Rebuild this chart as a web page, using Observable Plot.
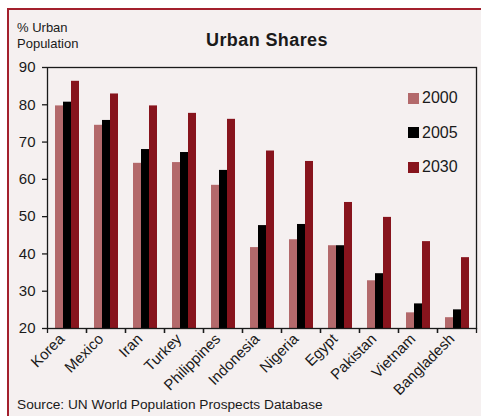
<!DOCTYPE html>
<html>
<head>
<meta charset="utf-8">
<script src="https://cdn.jsdelivr.net/npm/d3@7"></script>
<script src="https://cdn.jsdelivr.net/npm/@observablehq/plot@0.6"></script>
<style>
  html, body { margin: 0; padding: 0; background: #ffffff; }
  #wrap { position: relative; width: 481px; height: 416px; overflow: hidden; font-family: "Liberation Sans", Arial, sans-serif; color: #1a1a1a; }
  #panel { position: absolute; left: 7px; top: 8px; width: 480px; height: 420px; background: #f5f0f0; border-left: 2px solid #a3202d; border-top: 2px solid #a3202d; }
  #chart { position: absolute; left: 0; top: 0; }
  .title { position: absolute; left: 0; width: 534px; text-align: center; top: 30px; font-size: 18px; font-weight: bold; letter-spacing: 0.4px; }
  .ylab { position: absolute; left: 17px; top: 20px; font-size: 13px; line-height: 16px; }
  .source { position: absolute; left: 17px; top: 397px; font-size: 13.7px; }
  .legend { position: absolute; left: 408px; top: 88px; font-size: 16px; }
  .legend .item { display: flex; align-items: center; height: 20px; margin-bottom: 14.5px; }
  .legend .sw { width: 11px; height: 11px; margin-right: 3px; }
</style>
</head>
<body>
<div id="wrap">
  <div id="panel"></div>
  <div id="chart"></div>
  <div class="title">Urban Shares</div>
  <div class="ylab">% Urban<br>Population</div>
  <div class="legend" id="legend"></div>
  <div class="source">Source: UN World Population Prospects Database</div>
</div>
<script>
const countries = ["Korea","Mexico","Iran","Turkey","Philippines","Indonesia","Nigeria","Egypt","Pakistan","Vietnam","Bangladesh"];
const years = ["2000","2005","2030"];
const v2000 = [79.7, 74.5, 64.3, 64.5, 58.4, 41.7, 43.8, 42.2, 32.8, 24.2, 22.9];
const v2005 = [80.7, 75.8, 68.0, 67.2, 62.4, 47.6, 47.9, 42.2, 34.7, 26.6, 25.0];
const v2030 = [86.3, 82.9, 79.7, 77.7, 76.1, 67.6, 64.8, 53.8, 49.8, 43.3, 39.0];
const yTicks = [20, 30, 40, 50, 60, 70, 80, 90];
const colors = ["#b3696b", "#000000", "#87141d"];

const series = [v2000, v2005, v2030];
const data = [];
countries.forEach((c, i) => {
  years.forEach((y, j) => data.push({country: c, year: y, value: series[j][i]}));
});

const W = 481, H = 395;
const mL = 47, mR = 5, mT = 67, mB = 67;
const half = (W - mL - mR) / countries.length / 2;
const yMin = yTicks[0], yMax = yTicks[yTicks.length - 1];

const chart = Plot.plot({
  width: W, height: H,
  marginTop: mT, marginLeft: mL, marginRight: mR, marginBottom: mB,
  style: {background: "transparent", fontFamily: "'Liberation Sans', Arial, sans-serif", color: "#1a1a1a", overflow: "visible"},
  fx: {domain: countries, padding: 0, label: null},
  x: {domain: years, paddingInner: 0, paddingOuter: 0.667, axis: null},
  y: {domain: [yMin, yMax], label: null},
  color: {domain: years, range: colors},
  marks: [
    Plot.barY(data, {fx: "country", x: "year", y1: yMin, y2: "value", fill: "year"}),
    Plot.frame({facet: "super", stroke: "#1a1a1a", strokeWidth: 1.3}),
    Plot.axisY({ticks: yTicks, tickSize: 5, tickPadding: 7, fontSize: 15, label: null, stroke: "#1a1a1a", strokeWidth: 1.3}),
    Plot.axisFx({anchor: "bottom", tickSize: 0, tickPadding: 8, tickRotate: -45, fontSize: 15, dx: -5, label: null}),
    Plot.axisFx({anchor: "bottom", text: null, tickSize: 5, dx: -half, label: null, strokeWidth: 1.3}),
    Plot.axisFx({anchor: "bottom", text: null, tickSize: 5, dx: half, label: null, strokeWidth: 1.3})
  ]
});
document.getElementById("chart").appendChild(chart);

const leg = document.getElementById("legend");
years.forEach((y, i) => {
  const it = document.createElement("div");
  it.className = "item";
  it.innerHTML = `<span class="sw" style="background:${colors[i]}"></span><span>${y}</span>`;
  leg.appendChild(it);
});
</script>
</body>
</html>
